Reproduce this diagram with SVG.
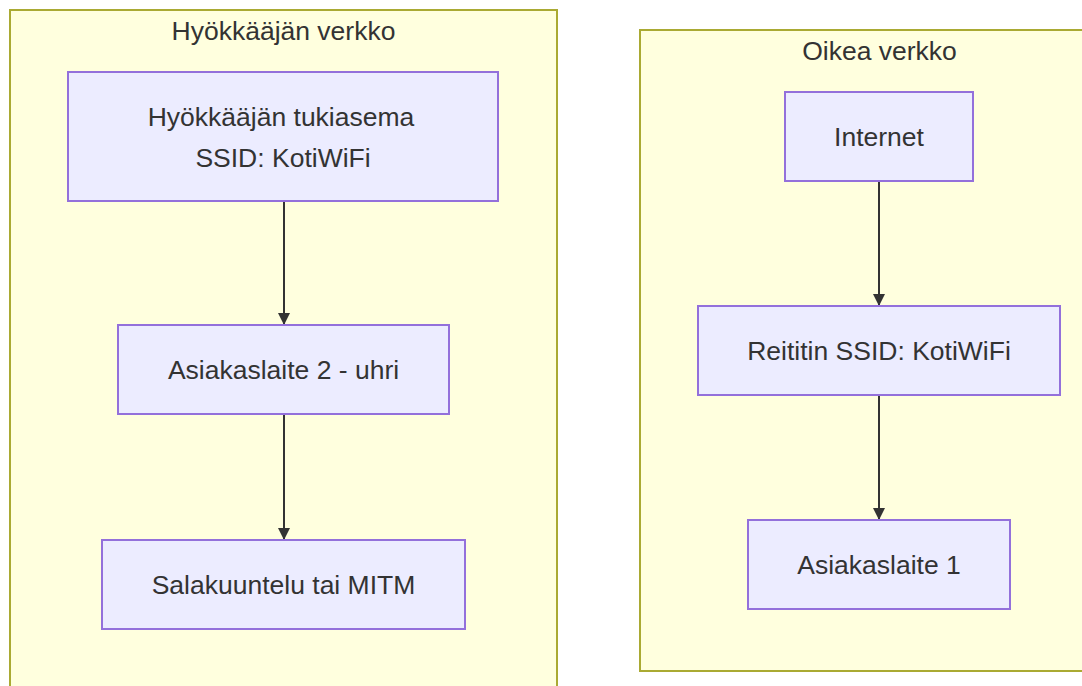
<svg xmlns="http://www.w3.org/2000/svg" width="1082" height="686" viewBox="0 0 1082 686">
<style>
.cluster{fill:#ffffde;stroke:#aaaa33;stroke-width:2}
.node rect{fill:#ececff;stroke:#9370db;stroke-width:2}
text{font-family:"Liberation Sans",Arial,sans-serif;font-size:26.5px;fill:#333;text-anchor:middle}
.edge{stroke:#333;stroke-width:2;fill:none}
</style>
<defs>
<marker id="arr" markerWidth="12" markerHeight="12" refX="12" refY="6" orient="auto" markerUnits="userSpaceOnUse">
<path d="M0,0 L12,6 L0,12 z" fill="#333"/>
</marker>
</defs>
<rect width="1082" height="686" fill="#ffffff"/>
<g id="cluster-attacker">
<rect class="cluster" x="10" y="10" width="547" height="690"/>
<text x="283.5" y="40">Hyökkääjän verkko</text>
</g>
<g id="cluster-real">
<rect class="cluster" x="640" y="30" width="480" height="641"/>
<text x="879.5" y="60">Oikea verkko</text>
</g>
<g id="connectors">
<line class="edge" x1="284" y1="201" x2="284" y2="325" marker-end="url(#arr)"/>
<line class="edge" x1="284" y1="414" x2="284" y2="540" marker-end="url(#arr)"/>
<line class="edge" x1="879" y1="181" x2="879" y2="306" marker-end="url(#arr)"/>
<line class="edge" x1="879" y1="395" x2="879" y2="520" marker-end="url(#arr)"/>
</g>
<g id="node-tukiasema" class="node">
<rect x="68" y="72" width="430" height="129"/>
<text x="281" y="126">Hyökkääjän tukiasema</text>
<text x="283" y="167">SSID: KotiWiFi</text>
</g>
<g id="node-uhri" class="node">
<rect x="118" y="325" width="331" height="89"/>
<text x="283.5" y="379">Asiakaslaite 2 - uhri</text>
</g>
<g id="node-mitm" class="node">
<rect x="102" y="540" width="363" height="89"/>
<text x="283.5" y="594">Salakuuntelu tai MITM</text>
</g>
<g id="node-internet" class="node">
<rect x="785" y="92" width="188" height="89"/>
<text x="879" y="146">Internet</text>
</g>
<g id="node-reititin" class="node">
<rect x="698" y="306" width="362" height="89"/>
<text x="879" y="360">Reititin SSID: KotiWiFi</text>
</g>
<g id="node-asiakas1" class="node">
<rect x="748" y="520" width="262" height="89"/>
<text x="879" y="574">Asiakaslaite 1</text>
</g>
</svg>
